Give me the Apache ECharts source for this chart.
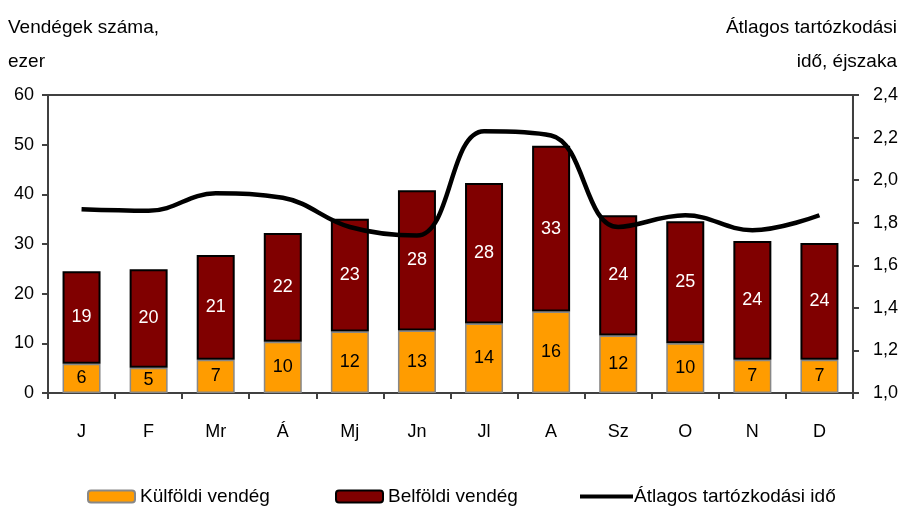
<!DOCTYPE html>
<html>
<head>
<meta charset="utf-8">
<script src="https://cdn.jsdelivr.net/npm/echarts@6/dist/echarts.min.js"></script>
<style>
  html, body { margin: 0; padding: 0; background: #fff; }
  #chart { width: 901px; height: 509px; }
</style>
</head>
<body>
<div id="chart"></div>
<script>
// honapok
const months = ['J', 'F', 'Mr', 'Á', 'Mj', 'Jn', 'Jl', 'A', 'Sz', 'O', 'N', 'D'];
// ezer fo
const kulfoldi = [5.9, 5.1, 6.7, 10.3, 12.4, 12.6, 14.0, 16.4, 11.6, 10.0, 6.7, 6.7];
const belfoldi = [18.6, 19.8, 21.1, 21.9, 22.7, 28.2, 28.3, 33.4, 24.2, 24.6, 23.9, 23.5];
// ejszaka
const atlagIdo = [1.863, 1.856, 1.938, 1.917, 1.78, 1.74, 2.23, 2.21, 1.78, 1.835, 1.765, 1.835];

const leftTicks = { min: 0, max: 60, interval: 10 };
const rightTicks = { min: 1.0, max: 2.4, interval: 0.2 };

const font = 'Liberation Sans, Arial, sans-serif';
const axisColor = '#404040';

const chart = echarts.init(document.getElementById('chart'));

const legendText = { fontSize: 19, color: '#000', fontFamily: font };

const option = {
  animation: false,
  textStyle: { fontFamily: font },
  grid: {
    left: 48, right: 46, top: 95, bottom: 116,
    show: true, borderColor: axisColor, borderWidth: 2
  },
  legend: [
    {
      left: 87, top: 487, padding: 0,
      itemWidth: 47, itemHeight: 12,
      textStyle: legendText,
      data: ['Külföldi vendég']
    },
    {
      left: 335, top: 487, padding: 0,
      itemWidth: 47, itemHeight: 12,
      textStyle: legendText,
      data: ['Belföldi vendég']
    },
    {
      left: 580, top: 487, padding: 0,
      itemWidth: 53, itemHeight: 4,
      icon: 'rect',
      textStyle: Object.assign({ padding: [0, 0, 0, -4] }, legendText),
      data: ['Átlagos tartózkodási idő']
    }
  ],
  graphic: [
    { type: 'text', left: 8, top: 18, style: { text: 'Vendégek száma,', fontSize: 19, fontFamily: font, fill: '#000' } },
    { type: 'text', left: 8, top: 52, style: { text: 'ezer', fontSize: 19, fontFamily: font, fill: '#000' } },
    { type: 'text', right: 4, top: 18, style: { text: 'Átlagos tartózkodási', fontSize: 19, fontFamily: font, fill: '#000' } },
    { type: 'text', right: 4, top: 52, style: { text: 'idő, éjszaka', fontSize: 19, fontFamily: font, fill: '#000' } }
  ],
  xAxis: {
    type: 'category',
    data: months,
    axisLine: { lineStyle: { color: axisColor, width: 2 } },
    axisTick: { show: true, length: 6, lineStyle: { color: axisColor, width: 2 } },
    axisLabel: { color: '#000', fontSize: 18, margin: 30, fontFamily: font }
  },
  yAxis: [
    {
      type: 'value',
      min: leftTicks.min, max: leftTicks.max, interval: leftTicks.interval,
      axisLine: { show: true, lineStyle: { color: axisColor, width: 2 } },
      axisTick: { show: true, length: 6, lineStyle: { color: axisColor, width: 2 } },
      splitLine: { show: false },
      axisLabel: { color: '#000', fontSize: 18, margin: 14, fontFamily: font }
    },
    {
      type: 'value',
      min: rightTicks.min, max: rightTicks.max, interval: rightTicks.interval,
      axisLine: { show: true, lineStyle: { color: axisColor, width: 2 } },
      axisTick: { show: true, length: 6, lineStyle: { color: axisColor, width: 2 } },
      splitLine: { show: false },
      axisLabel: {
        color: '#000', fontSize: 18, margin: 20, fontFamily: font,
        formatter: v => v.toFixed(1).replace('.', ',')
      }
    }
  ],
  series: [
    {
      name: 'Külföldi vendég',
      type: 'bar',
      stack: 'vendeg',
      barWidth: 38,
      data: kulfoldi,
      itemStyle: { color: '#ff9c00', borderColor: '#888', borderWidth: 1.5 },
      label: {
        show: true, position: 'inside', color: '#000', fontSize: 18, fontFamily: font,
        formatter: p => Math.round(p.value)
      }
    },
    {
      name: 'Belföldi vendég',
      type: 'bar',
      stack: 'vendeg',
      barWidth: 38,
      data: belfoldi,
      itemStyle: { color: '#800000', borderColor: '#000', borderWidth: 2 },
      label: {
        show: true, position: 'inside', color: '#fff', fontSize: 18, fontFamily: font,
        formatter: p => Math.round(p.value)
      }
    },
    {
      name: 'Átlagos tartózkodási idő',
      type: 'line',
      yAxisIndex: 1,
      data: atlagIdo,
      smooth: 0.4,
      symbol: 'none',
      lineStyle: { color: '#000', width: 4.5 },
      itemStyle: { color: '#000' },
      z: 5
    }
  ]
};

chart.setOption(option);
</script>
</body>
</html>
